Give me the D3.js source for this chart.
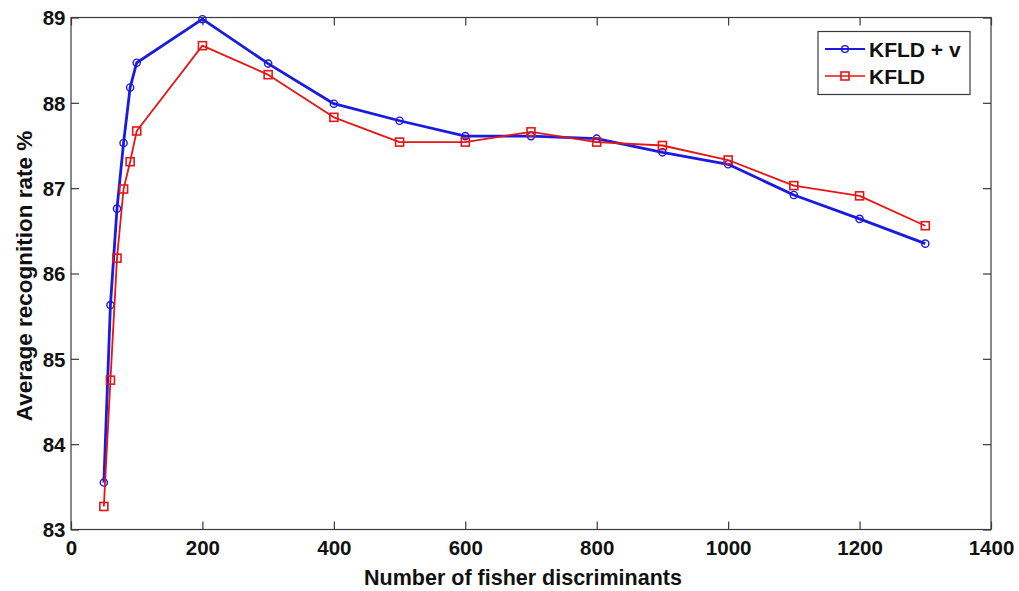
<!DOCTYPE html>
<html>
<head>
<meta charset="utf-8">
<script src="https://cdn.jsdelivr.net/npm/d3@7"></script>
<style>
  html, body { margin: 0; padding: 0; background: #fff; }
  svg { display: block; }
  text { font-family: "Liberation Sans", Arial, sans-serif; font-weight: bold; fill: #111; }
</style>
</head>
<body>
<svg id="chart" width="1019" height="591"></svg>
<script>
const xValues = [50, 60, 70, 80, 90, 100, 200, 300, 400, 500, 600, 700, 800, 900, 1000, 1100, 1200, 1300];
const kfldV = [83.55, 85.63, 86.76, 87.53, 88.18, 88.47, 88.98, 88.46, 87.99, 87.79, 87.61, 87.61, 87.58, 87.42, 87.28, 86.92, 86.64, 86.35];
const kfld  = [83.27, 84.75, 86.18, 86.99, 87.31, 87.67, 88.67, 88.33, 87.83, 87.54, 87.54, 87.66, 87.54, 87.50, 87.33, 87.03, 86.91, 86.56];
const xTicks = [0, 200, 400, 600, 800, 1000, 1200, 1400];
const yTicks = [83, 84, 85, 86, 87, 88, 89];
const seriesNames = ["KFLD + v", "KFLD"];
const xTitle = "Number of fisher discriminants";
const yTitle = "Average recognition rate %";

const W = 1019, H = 591;
const m = { left: 71, right: 991, top: 17.5, bottom: 529.5 };
const blue = "#1a1ae0", red = "#e41616", axisCol = "#3a3a3a";

const svg = d3.select("#chart");
const x = d3.scaleLinear().domain([0, 1400]).range([m.left, m.right]);
const y = d3.scaleLinear().domain([83, 89]).range([m.bottom, m.top]);

// box
svg.append("rect").attr("x", m.left).attr("y", m.top)
  .attr("width", m.right - m.left).attr("height", m.bottom - m.top)
  .attr("fill", "none").attr("stroke", axisCol).attr("stroke-width", 1.2);

const tl = 8;
const fmt = d3.format("d");
const gx = svg.append("g").attr("transform", `translate(0,${m.bottom})`)
  .call(d3.axisBottom(x).tickValues(xTicks).tickSizeInner(-tl).tickSizeOuter(0).tickPadding(10.5).tickFormat(fmt));
const gxTop = svg.append("g").attr("transform", `translate(0,${m.top})`)
  .call(d3.axisTop(x).tickValues(xTicks).tickSizeInner(-tl).tickSizeOuter(0).tickFormat(""));
const gy = svg.append("g").attr("transform", `translate(${m.left},0)`)
  .call(d3.axisLeft(y).tickValues(yTicks).tickSizeInner(-tl).tickSizeOuter(0).tickPadding(5.5).tickFormat(fmt));
const gyR = svg.append("g").attr("transform", `translate(${m.right},0)`)
  .call(d3.axisRight(y).tickValues(yTicks).tickSizeInner(-tl).tickSizeOuter(0).tickFormat(""));

[gx, gxTop, gy, gyR].forEach(g => {
  g.select(".domain").remove();
  g.selectAll(".tick line").attr("stroke", axisCol).attr("stroke-width", 1.2);
  g.selectAll(".tick text").style("font-size", "20.5px").style("font-family", "'Liberation Sans', Arial, sans-serif").style("font-weight", "bold").attr("fill", "#111");
});
gx.selectAll(".tick text").attr("dy", "0.71em");
gy.selectAll(".tick text").attr("dy", "0.35em");

// titles
svg.append("text").attr("x", (m.left + m.right) / 2 - 8).attr("y", 585)
  .attr("text-anchor", "middle").style("font-size", "21.5px").text(xTitle);
svg.append("text").attr("transform", `translate(32,276) rotate(-90)`)
  .attr("text-anchor", "middle").style("font-size", "22.5px").text(yTitle);

const line = d3.line().x((d, i) => x(xValues[i])).y(d => y(d));

// KFLD + v (blue)
svg.append("path").datum(kfldV).attr("d", line).attr("fill", "none")
  .attr("stroke", blue).attr("stroke-width", 2.8).attr("stroke-linejoin", "round");
svg.append("g").selectAll("circle").data(kfldV).join("circle")
  .attr("cx", (d, i) => x(xValues[i])).attr("cy", d => y(d)).attr("r", 3.6)
  .attr("fill", "none").attr("stroke", blue).attr("stroke-width", 1.4);

// KFLD (red)
svg.append("path").datum(kfld).attr("d", line).attr("fill", "none")
  .attr("stroke", red).attr("stroke-width", 1.8).attr("stroke-linejoin", "round");
const sq = 8;
svg.append("g").selectAll("rect").data(kfld).join("rect")
  .attr("x", (d, i) => x(xValues[i]) - sq / 2).attr("y", d => y(d) - sq / 2)
  .attr("width", sq).attr("height", sq)
  .attr("fill", "none").attr("stroke", red).attr("stroke-width", 1.6);

// legend
const lg = svg.append("g");
lg.append("rect").attr("x", 818).attr("y", 31.5).attr("width", 152).attr("height", 63)
  .attr("fill", "#fff").attr("stroke", axisCol).attr("stroke-width", 1.2);
const rows = [
  { name: seriesNames[0], color: blue, w: 2.2, marker: "circle", yy: 49 },
  { name: seriesNames[1], color: red, w: 1.7, marker: "square", yy: 76 }
];
rows.forEach(r => {
  lg.append("line").attr("x1", 825).attr("x2", 865).attr("y1", r.yy).attr("y2", r.yy)
    .attr("stroke", r.color).attr("stroke-width", r.w);
  if (r.marker === "circle") {
    lg.append("circle").attr("cx", 845).attr("cy", r.yy).attr("r", 3.4)
      .attr("fill", "none").attr("stroke", r.color).attr("stroke-width", 1.4);
  } else {
    lg.append("rect").attr("x", 845 - sq / 2).attr("y", r.yy - sq / 2).attr("width", sq).attr("height", sq)
      .attr("fill", "none").attr("stroke", r.color).attr("stroke-width", 1.6);
  }
  lg.append("text").attr("x", 869).attr("y", r.yy).attr("dy", "0.36em")
    .style("font-size", "21px").text(r.name);
});
</script>
</body>
</html>
